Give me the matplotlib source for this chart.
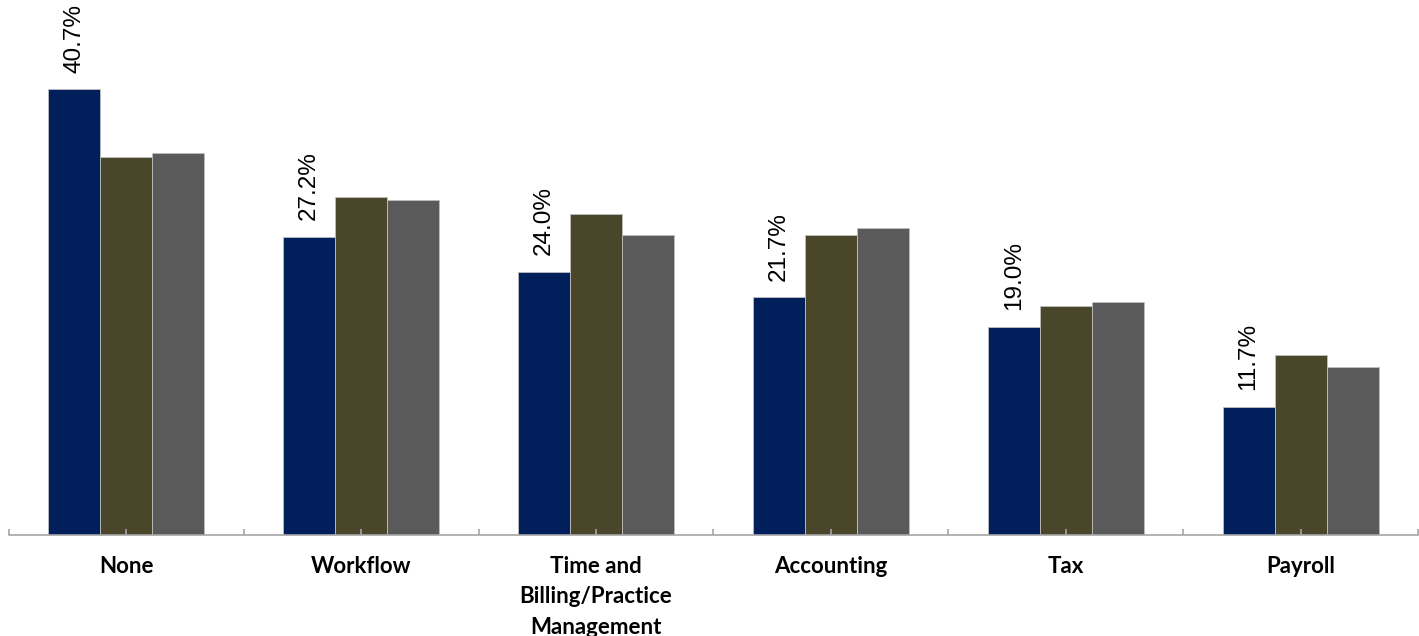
import numpy as np
import matplotlib.pyplot as plt

# ------------------------------------------------------------
# Data
# ------------------------------------------------------------
categories = ["None", "Workflow", "Time and\nBilling/Practice\nManagement",
              "Accounting", "Tax", "Payroll"]
series_1 = [40.7, 27.2, 24.0, 21.7, 19.0, 11.7]
series_2 = [34.5, 30.9, 29.3, 27.4, 20.9, 16.4]
series_3 = [34.9, 30.6, 27.4, 28.0, 21.3, 15.3]

colors = ["#001F5B", "#4A4629", "#5A5A5A"]

# ------------------------------------------------------------
# Plot
# ------------------------------------------------------------
fig = plt.figure(figsize=(14.19, 6.36), dpi=100)
ax = fig.add_axes([0.0063, 0.1588, 0.993, 0.775])

x = np.arange(len(categories))
w = 0.2215

bars1 = ax.bar(x - w, series_1, w, color=colors[0], edgecolor="#BFBFBF", linewidth=0.6)
ax.bar(x, series_2, w, color=colors[1], edgecolor="#BFBFBF", linewidth=0.6)
ax.bar(x + w, series_3, w, color=colors[2], edgecolor="#BFBFBF", linewidth=0.6)

for b, v in zip(bars1, series_1):
    ax.annotate(f"{v:.1f}%", (b.get_x() + b.get_width() / 2, b.get_height()),
                xytext=(0, 12), textcoords="offset points",
                rotation=90, ha="center", va="bottom",
                fontsize=17.5, family="Liberation Sans", annotation_clip=False)

ax.set_xlim(-0.5, len(categories) - 0.5)
ax.set_ylim(0, 45)

ax.set_xticks(x)
ax.set_xticklabels(categories, fontsize=16, fontweight="bold", family="Lato",
                   linespacing=1.55, va="top")
ax.set_xticks(np.arange(len(categories) + 1) - 0.5, minor=True)
ax.tick_params(axis="x", which="both", direction="in", length=4.5, width=1.2,
               color="#A6A6A6", pad=15)
ax.set_yticks([])

for s in ["top", "right", "left"]:
    ax.spines[s].set_visible(False)
ax.spines["bottom"].set_color("#A6A6A6")
ax.spines["bottom"].set_linewidth(1.2)

fig.savefig("out.png", dpi=100)
